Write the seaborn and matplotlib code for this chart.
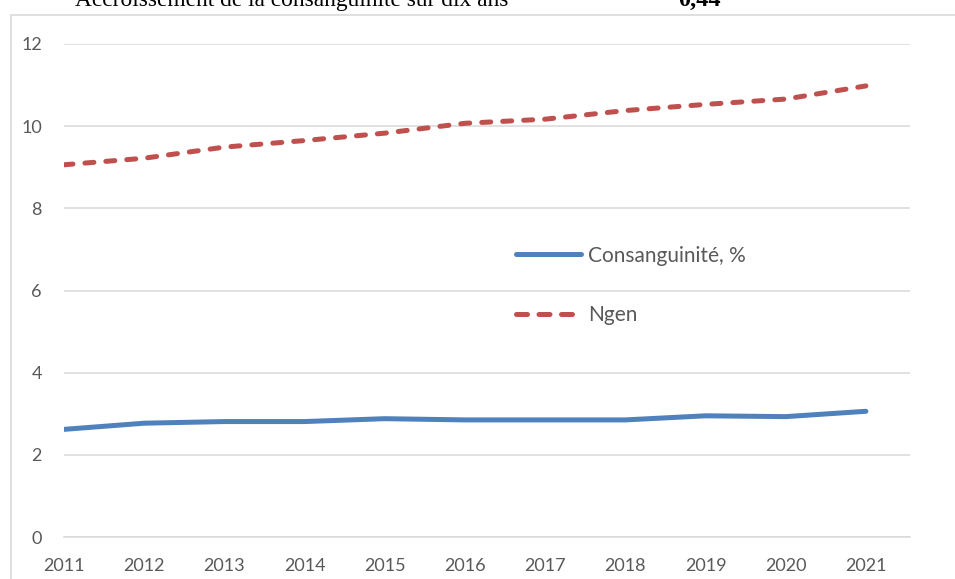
import numpy as np
import pandas as pd
import seaborn as sns
import matplotlib.pyplot as plt
from matplotlib.patches import Rectangle

# data
years = [2011, 2012, 2013, 2014, 2015, 2016, 2017, 2018, 2019, 2020, 2021]
consang = [2.62, 2.77, 2.81, 2.81, 2.88, 2.85, 2.85, 2.85, 2.95, 2.93, 3.06]
ngen = [9.06, 9.22, 9.49, 9.65, 9.83, 10.07, 10.17, 10.38, 10.53, 10.66, 10.98]

y_ticks = [0, 2, 4, 6, 8, 10, 12]

df = pd.DataFrame({"Année": years, "Consanguinité, %": consang, "Ngen": ngen})

sns.set_style("white")
plt.rcParams['font.family'] = ['Lato', 'DejaVu Sans']

W, H = 955, 579
fig = plt.figure(figsize=(W / 100, H / 100), dpi=100)
ax = fig.add_axes([64 / W, 42 / H, (910 - 64) / W, (537 - 44) / H])

grid_col = "#D9D9D9"
text_col = "#595959"

sns.lineplot(data=df, x="Année", y="Consanguinité, %", ax=ax, color="#4F81BD",
             linewidth=3.6, solid_capstyle="round", label="Consanguinité, %")
sns.lineplot(data=df, x="Année", y="Ngen", ax=ax, color="#C0504D",
             linewidth=3.6, label="Ngen")
ax.lines[-1].set_dash_capstyle("round")
ax.lines[-1].set_dashes((1.8, 2.4))

ax.set_xlim(2011, 2021.55)
ax.set_ylim(0, 12)
ax.set_yticks(y_ticks)
ax.set_xticks(years)
ax.set_xlabel("")
ax.set_ylabel("")
ax.grid(True, axis="y", color=grid_col, linewidth=1.1)
ax.set_axisbelow(True)
for s in ["top", "right", "left"]:
    ax.spines[s].set_visible(False)
ax.spines["bottom"].set_color(grid_col)
ax.spines["bottom"].set_linewidth(1.1)
ax.tick_params(axis="both", length=0, labelsize=13, colors=text_col)
ax.tick_params(axis="y", pad=16)
ax.tick_params(axis="x", pad=15)

leg = ax.legend(loc="upper left", bbox_to_anchor=(0.522, 0.612), frameon=False,
                fontsize=15, handlelength=3.1, handletextpad=0.35,
                labelspacing=1.9, borderpad=0)
for t in leg.get_texts():
    t.set_color(text_col)
for h in leg.get_lines():
    h.set_dash_capstyle("round")
    h.set_solid_capstyle("round")
leg.get_lines()[1].set_dashes((2.2, 2.3))

# chart area border (cropped screenshot)
fig.patches.append(Rectangle((10.5 / W, -0.05), 1.1, (H - 15) / H + 0.05,
                             transform=fig.transFigure, fill=False,
                             edgecolor=grid_col, linewidth=1.2))

# cut-off text above the chart
fig.text(75 / W, (H - 6) / H, "Accroissement de la consanguinité sur dix ans",
         family=["Liberation Serif"], fontsize=16.8, va="baseline", ha="left", color="black")
fig.text(678 / W, (H - 6) / H, "0,44", family=["Liberation Serif"], fontsize=17.5,
         fontweight="bold", va="baseline", ha="left", color="black")

fig.savefig("out.png", dpi=100)
